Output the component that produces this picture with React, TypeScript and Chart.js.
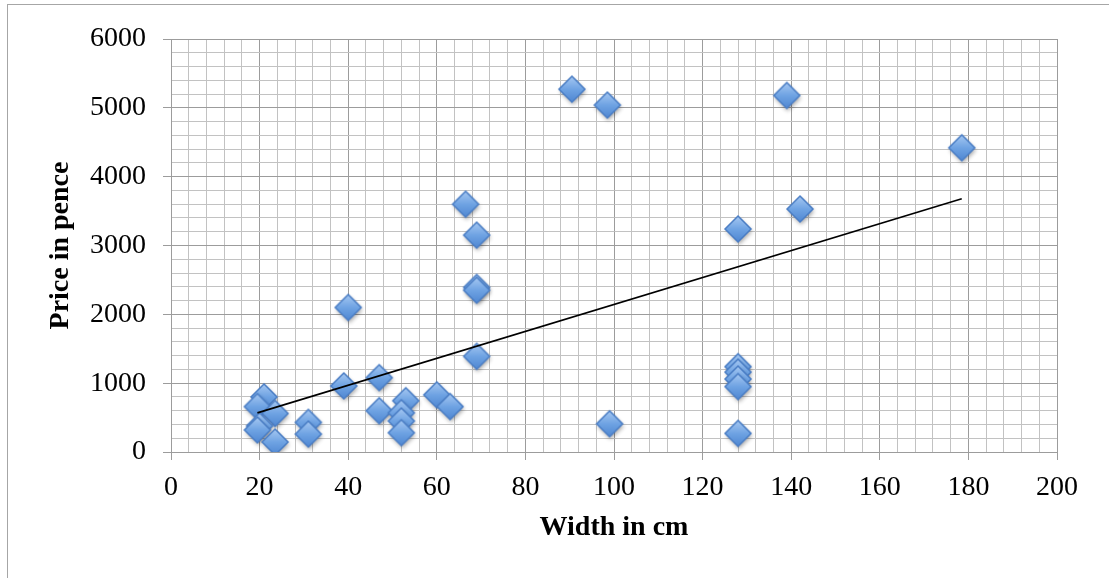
import React, { useEffect, useRef } from 'react';
import { Chart, registerables } from 'chart.js';

Chart.register(...registerables);

// ---- data ----
const widthCm = [21, 19.5, 23.5, 20, 19.5, 23.5, 31, 31, 39, 40, 47, 47, 53, 52, 52, 52, 60, 63, 66.5, 69, 69, 69, 69, 90.5, 98.5, 99, 128, 128, 128, 128, 128, 128, 139, 142, 178.5];
const pricePence = [800, 660, 560, 380, 320, 145, 430, 260, 960, 2100, 1080, 600, 745, 570, 450, 280, 830, 660, 3600, 3150, 2390, 2350, 1390, 5270, 5040, 410, 3240, 1240, 1160, 1060, 950, 270, 5180, 3530, 4420];

const xTickLabels = ['0', '20', '40', '60', '80', '100', '120', '140', '160', '180', '200'];
const yTickLabels = ['0', '1000', '2000', '3000', '4000', '5000', '6000'];
const xTitle = 'Width in cm';
const yTitle = 'Price in pence';

const X_MAJOR = 20;
const X_MINOR = 4;
const Y_MAJOR = 1000;
const Y_MINOR = 200;

function linearFit(xs: number[], ys: number[]) {
  const n = xs.length;
  const mx = xs.reduce((a, b) => a + b, 0) / n;
  const my = ys.reduce((a, b) => a + b, 0) / n;
  let sxy = 0;
  let sxx = 0;
  for (let i = 0; i < n; i++) {
    sxy += (xs[i] - mx) * (ys[i] - my);
    sxx += (xs[i] - mx) * (xs[i] - mx);
  }
  const slope = sxy / sxx;
  return { slope, intercept: my - slope * mx };
}

function makeDiamond(): HTMLCanvasElement {
  const c = document.createElement('canvas');
  c.width = 44;
  c.height = 44;
  const g = c.getContext('2d')!;
  const cx = 22;
  const cy = 22;
  const r = 13;
  const path = () => {
    g.beginPath();
    g.moveTo(cx, cy - r);
    g.lineTo(cx + r, cy);
    g.lineTo(cx, cy + r);
    g.lineTo(cx - r, cy);
    g.closePath();
  };
  g.save();
  g.shadowColor = 'rgba(0,0,0,0.35)';
  g.shadowBlur = 4;
  g.shadowOffsetX = 1;
  g.shadowOffsetY = 2.5;
  path();
  const grad = g.createLinearGradient(0, cy - r, 0, cy + r);
  grad.addColorStop(0, '#a6c8f2');
  grad.addColorStop(0.5, '#6fa3e3');
  grad.addColorStop(1, '#4f87d2');
  g.fillStyle = grad;
  g.fill();
  g.restore();
  path();
  g.lineWidth = 1.5;
  g.strokeStyle = '#4a7dc4';
  g.stroke();
  return c;
}

export default function App() {
  const ref = useRef<HTMLCanvasElement | null>(null);

  useEffect(() => {
    if (!ref.current) return;
    const diamond = makeDiamond();
    const fit = linearFit(widthCm, pricePence);
    const minX = Math.min(...widthCm);
    const maxX = Math.max(...widthCm);
    const trend = [
      { x: minX, y: fit.intercept + fit.slope * minX },
      { x: maxX, y: fit.intercept + fit.slope * maxX },
    ];
    const points = widthCm.map((x, i) => ({ x, y: pricePence[i] }));

    const labelFont = { family: "'Liberation Serif', serif", size: 28 };
    const titleFont = { family: "'Liberation Serif', serif", size: 28, weight: 'bold' as const };
    const major = '#9c9c9c';
    const minor = '#c2c2c2';

    const chart = new Chart(ref.current, {
      type: 'scatter',
      data: {
        datasets: [
          {
            type: 'line',
            label: 'Trend',
            data: trend,
            borderColor: '#000000',
            borderWidth: 1.6,
            pointRadius: 0,
            fill: false,
          } as any,
          {
            label: 'Price',
            data: points,
            pointStyle: diamond as any,
            pointRadius: 13,
          },
        ],
      },
      options: {
        animation: false,
        responsive: false,
        events: [],
        layout: { padding: { top: 39, right: 52, left: 0, bottom: 0 } },
        plugins: { legend: { display: false }, tooltip: { enabled: false } },
        scales: {
          x: {
            type: 'linear',
            position: 'bottom',
            min: 0,
            max: 200,
            afterFit: (s: any) => { s.height = 126; },
            ticks: {
              stepSize: X_MINOR,
              autoSkip: false,
              maxRotation: 0,
              padding: 11,
              color: '#000',
              font: labelFont,
              callback: (v: any) => {
                const n = Number(v);
                if (n % X_MAJOR !== 0) return '';
                return xTickLabels[n / X_MAJOR] ?? '';
              },
            },
            grid: {
              lineWidth: 1,
              tickLength: 8,
              color: (c: any) => (c.tick && c.tick.value % X_MAJOR === 0 ? major : minor),
              tickColor: (c: any) => (c.tick && c.tick.value % X_MAJOR === 0 ? major : 'rgba(0,0,0,0)'),
            },
            border: { display: true, color: major, width: 1 },
            title: {
              display: true,
              text: xTitle,
              color: '#000',
              font: titleFont,
              padding: { top: 0, bottom: 33 },
            },
          },
          y: {
            type: 'linear',
            position: 'left',
            min: 0,
            max: 6000,
            afterFit: (s: any) => { s.width = 171; },
            ticks: {
              stepSize: Y_MINOR,
              autoSkip: false,
              padding: 17,
              color: '#000',
              font: labelFont,
              callback: (v: any) => {
                const n = Number(v);
                if (n % Y_MAJOR !== 0) return '';
                return yTickLabels[n / Y_MAJOR] ?? '';
              },
            },
            grid: {
              lineWidth: 1,
              tickLength: 8,
              color: (c: any) => (c.tick && c.tick.value % Y_MAJOR === 0 ? major : minor),
              tickColor: (c: any) => (c.tick && c.tick.value % Y_MAJOR === 0 ? major : 'rgba(0,0,0,0)'),
            },
            border: { display: true, color: major, width: 1 },
            title: {
              display: true,
              text: yTitle,
              color: '#000',
              font: titleFont,
              padding: { top: 44, bottom: 0 },
            },
          },
        },
      },
    });
    return () => chart.destroy();
  }, []);

  return (
    <div>
      <div
        style={{
          position: 'fixed',
          left: 7,
          top: 4,
          right: 0,
          bottom: 0,
          borderTop: '1px solid #a6a6a6',
          borderLeft: '1px solid #a6a6a6',
          background: '#fff',
        }}
      />
      <canvas
        ref={ref}
        width={1109}
        height={578}
        style={{ position: 'fixed', left: 0, top: 0, width: 1109, height: 578 }}
      />
    </div>
  );
}
